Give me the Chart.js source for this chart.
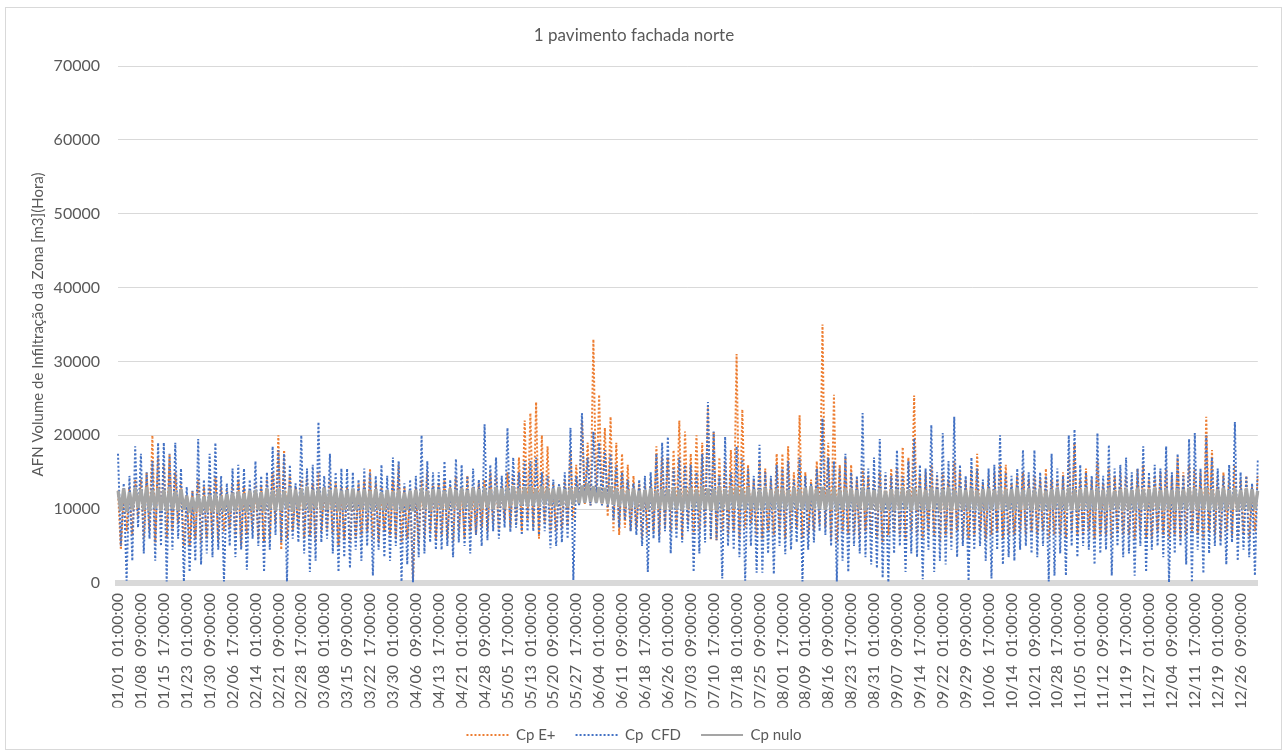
<!DOCTYPE html>
<html><head><meta charset="utf-8">
<script src="https://cdn.jsdelivr.net/npm/chart.js@4.4.1/dist/chart.umd.min.js"></script>
<style>html,body{margin:0;padding:0;background:#fff;}canvas{display:block;}</style>
</head><body>
<canvas id="c" width="1287" height="755"></canvas>
<script>
const tickLabels = ["01/01  01:00:00","01/08  09:00:00","01/15  17:00:00","01/23  01:00:00","01/30  09:00:00","02/06  17:00:00","02/14  01:00:00","02/21  09:00:00","02/28  17:00:00","03/08  01:00:00","03/15  09:00:00","03/22  17:00:00","03/30  01:00:00","04/06  09:00:00","04/13  17:00:00","04/21  01:00:00","04/28  09:00:00","05/05  17:00:00","05/13  01:00:00","05/20  09:00:00","05/27  17:00:00","06/04  01:00:00","06/11  09:00:00","06/18  17:00:00","06/26  01:00:00","07/03  09:00:00","07/10  17:00:00","07/18  01:00:00","07/25  09:00:00","08/01  17:00:00","08/09  01:00:00","08/16  09:00:00","08/23  17:00:00","08/31  01:00:00","09/07  09:00:00","09/14  17:00:00","09/22  01:00:00","09/29  09:00:00","10/06  17:00:00","10/14  01:00:00","10/21  09:00:00","10/28  17:00:00","11/05  01:00:00","11/12  09:00:00","11/19  17:00:00","11/27  01:00:00","12/04  09:00:00","12/11  17:00:00","12/19  01:00:00","12/26  09:00:00"];

const cpEplus = [
12500,4500,12000,7000,13000,6500,14000,9000,
14000,6000,15000,7000,20000,5500,17000,8000,
16000,6000,17500,7000,15000,8000,13500,5000,
12000,5000,12500,6000,14000,5500,13000,6000,
13000,6000,14500,5500,13000,7000,12500,7500,
13500,6500,14000,5000,13000,6500,12500,7000,
13500,6000,13000,5500,14000,6000,15000,8000,
20000,4500,18000,6000,14500,7000,13000,7500,
14000,6000,14500,6500,13500,5500,15000,7000,
13000,7000,14000,6500,13500,5000,13000,6000,
13000,5500,12500,6000,13500,6500,14000,7000,
15500,6000,13500,5500,13000,7000,12500,6500,
14000,6000,16000,5500,13000,6000,12500,300,
13000,5000,14000,6000,15000,7000,13500,6000,
13500,6500,14000,6000,13000,5500,14500,7000,
13000,6000,14500,7000,13000,6500,13500,7500,
14000,7000,15000,8000,14500,7000,13500,8500,
15000,7500,14500,8000,17000,7000,22000,8500,
23000,7500,24500,6000,20000,8000,18500,7000,
13500,7000,13000,7500,14000,8000,18000,8500,
16000,10600,22000,10700,19000,10500,33000,10800,
25500,10600,21000,9000,22500,7000,19000,6500,
17500,7500,16000,7000,14500,7500,13500,6000,
13500,6500,14000,7000,18500,6500,17000,7500,
17000,7000,18000,7500,22000,6000,20500,8000,
17500,6500,20000,7000,19000,7500,24000,5800,
20500,5800,17000,7000,16500,6500,18000,7000,
31000,6000,23500,7500,16000,8000,14000,6500,
16500,6000,15500,7000,14000,6500,17500,7000,
17500,6000,18500,7000,15000,7500,22700,6000,
15000,6500,14000,7000,16500,8000,35000,7500,
19000,6000,25500,5500,16000,7000,17000,6500,
16000,6500,14000,6000,15500,7000,14500,6500,
14000,6000,15000,5500,14500,6500,15500,7000,
15500,6500,18400,6000,17000,7000,25400,6500,
14500,6000,15000,7000,16000,6500,14500,5500,
15000,6500,14000,6000,16500,7000,15000,6000,
14000,6000,15500,6500,17500,7000,13500,6000,
14500,6500,15000,7000,16000,6000,16000,6500,
13500,6500,14500,7000,15000,6500,14000,7000,
14500,6500,14000,7000,15500,6000,14000,6500,
14000,6500,15000,6000,17000,7000,19000,6500,
14000,6500,15500,7000,14000,6000,16500,6500,
13500,6500,15500,6000,14500,7000,15000,6500,
14500,6500,14000,6000,15500,7000,16000,6000,
14000,6000,14500,7000,15000,6500,15500,6000,
14500,6500,17000,6000,15000,6500,16000,7000,
15500,6500,15000,6000,22500,7000,18000,6500,
14500,6000,15000,7000,14000,6500,16000,6000,
14000,6500,14500,6000,13000,7000,14500
];

const cpCFD = [
17500,5000,13500,300,14500,3000,18500,7500,
17500,4000,15000,6000,16500,3000,19000,5000,
19000,200,17500,4500,19000,6000,15500,200,
13000,1500,12500,3000,19500,2500,14000,4000,
17500,3500,19000,4500,14500,200,13500,5000,
15500,3500,16000,4500,15500,1800,14000,6000,
16500,5000,14500,1500,15000,4500,18500,6500,
18000,5500,17500,200,16000,6000,13500,5500,
20000,4000,15500,1500,16000,3000,21800,5500,
14500,6000,17500,4000,15000,1500,15500,3500,
15500,2000,15000,4500,14000,3000,15500,5000,
15000,1000,14500,4500,16000,3500,14500,3000,
17000,5000,16500,200,13500,2500,14000,100,
14500,3500,20000,4000,16500,5500,15000,4500,
15000,4500,16500,5000,14000,3500,16800,5500,
16000,5000,14500,4000,15500,6500,14000,5000,
21500,5800,16000,7000,17000,6000,14500,7500,
21000,6900,17000,7500,15000,6500,16500,7000,
16500,7000,17000,6500,15000,7000,14500,4700,
14000,5000,13500,5500,15000,6000,21000,400,
14500,10500,23000,10800,17000,10500,20500,10800,
19000,10500,18000,10300,17500,8500,16000,7500,
15000,8500,14000,7000,13500,6500,14000,5000,
14500,1500,15000,6000,17500,5500,19000,7000,
19800,4000,15500,6000,17000,5500,16000,7000,
16000,1500,15000,4000,17500,5500,24500,6000,
20500,5800,14500,600,19800,5000,15000,4500,
18500,3500,17000,300,15500,5000,14500,1400,
18700,1400,15000,4000,14500,1200,16000,5000,
15500,3900,16500,4500,14000,5500,17000,200,
14500,4500,13500,5500,15500,7000,22300,6500,
17000,5000,16500,200,15500,3000,17500,1500,
15000,5000,14500,4000,23000,3500,15500,2500,
17000,2000,19500,700,15000,100,14500,4000,
18000,5000,14500,1500,16500,4000,19600,3500,
16000,500,15500,4500,21400,1500,15000,3000,
20300,2500,16500,4500,22500,3500,16000,5000,
14500,300,17000,4500,15500,5000,14000,3000,
15500,600,16000,4500,20000,2500,15000,3500,
14500,3000,15500,4500,18000,5000,15000,4000,
18000,3500,15000,5000,14500,200,17500,1000,
15500,4000,14500,1000,20000,5000,20800,3500,
16000,5000,15000,4500,14500,2500,20300,4000,
14500,4500,18700,1000,15500,5000,16000,3500,
17000,4000,15000,1000,15500,5000,18500,1500,
15000,4500,16000,5000,15500,3500,18500,100,
15000,4000,17500,5000,14500,2500,19500,100,
20300,4500,15500,1300,20000,4000,17000,5000,
15500,5000,14500,2500,16000,5500,21800,3000,
15000,4500,14500,3500,13500,1000,16600
];

const cpNulo = [
12500,9800,12800,9600,12300,10000,12900,10200,
12700,9900,13000,9700,12600,10100,12800,9800,
12600,9700,12900,10000,12400,9800,12700,9900,
11800,9500,11600,9700,11900,9400,11700,9600,
11900,9600,12100,9500,11800,9700,12000,9600,
12200,9700,12400,9900,12100,9600,12500,9800,
12600,9900,12300,9700,12800,10000,12500,9800,
12800,9800,12500,10100,12900,9700,12600,10000,
12700,10000,13000,9800,12600,10100,12800,9900,
12900,9900,12600,10000,12800,9700,12500,9900,
12600,9800,12800,9900,12400,10000,12700,9800,
12500,9700,12700,9900,12300,9800,12600,10000,
12400,9800,12600,9700,12200,9900,12500,9700,
12600,9900,12800,10000,12500,9800,12700,10100,
12700,10000,12500,9900,12800,10100,12600,10000,
12800,10100,12600,9900,12900,10200,12700,10000,
12900,10200,12700,10000,13000,10300,12800,10100,
12900,10400,13100,10300,12800,10500,13000,10400,
13000,10500,12800,10400,13100,10600,12900,10500,
12800,10400,13000,10500,12700,10300,12900,10600,
13000,10800,13200,10900,13500,11000,13100,10900,
13000,10800,12900,10700,13100,10600,12800,10400,
12700,10300,12600,10100,12800,10200,12500,10000,
12600,10000,12800,9900,12500,10100,12700,9900,
12700,9900,12900,10000,12600,9800,12800,10100,
12900,10100,12700,9900,13000,10000,12800,9800,
12800,9800,13000,10000,12700,9900,12900,10100,
13000,10100,12800,9900,12900,10000,12700,9800,
12700,9800,12900,10000,12600,9900,12800,10000,
12800,10000,12600,9800,12900,10100,12700,9900,
12900,9900,13100,10100,12800,10000,13000,9900,
12700,10000,12900,9800,12600,9900,12800,10100,
12800,9900,12600,10000,12900,9800,12700,9900,
12600,9800,12800,9700,12500,9900,12700,9800,
12700,9900,12900,10000,12600,9800,12800,9900,
12800,9800,12600,9900,12900,10000,12700,9800,
12700,9900,12900,9800,12600,10000,12800,9900,
12600,9800,12800,9900,12500,9700,12700,9800,
12800,9900,12600,10000,12900,9800,12700,9900,
12700,9800,12900,9900,12600,10000,12800,9800,
12600,9900,12800,9800,12500,9900,12700,10000,
12800,10000,12600,9800,12900,9900,12700,9800,
12700,9900,12900,10000,12600,9800,12800,9900,
12600,9800,12800,9900,12500,10000,12700,9800,
12800,9900,12600,9800,12900,10000,12700,9900,
12700,10000,12900,9900,12600,9800,12800,10000,
12600,9800,12800,9900,12700,10000,12900,9800,
12800,9900,12700,10000,12900,9800,12600,9900,
12700,9800,12900,9900,12600,10000,12800,9800,
12600,9900,12800,9800,12700,10000,12500
];

const categories = cpCFD.map((v, i) => (i % 8 === 0 ? tickLabels[i / 8] : ''));

const framePlugin = {
  id: 'frame',
  beforeDraw(chart) {
    const ctx = chart.ctx;
    ctx.save();
    ctx.fillStyle = '#ffffff';
    ctx.fillRect(0, 0, chart.width, chart.height);
    ctx.strokeStyle = '#d9d9d9';
    ctx.lineWidth = 1;
    ctx.strokeRect(5.5, 7.5, 1276, 742);
    ctx.restore();
  }
};

function draw() {
  Chart.defaults.font.family = 'Lato, "Open Sans", sans-serif';
  const baseLabels = Chart.defaults.plugins.legend.labels.generateLabels;
  new Chart(document.getElementById('c'), {
    type: 'line',
    data: {
      labels: categories,
      datasets: [
        { label: 'Cp E+', data: cpEplus, borderColor: '#ED7D31', backgroundColor: '#ED7D31', borderWidth: 2, borderDash: [2, 2], borderJoinStyle: 'bevel', pointRadius: 0, tension: 0, order: 3 },
        { label: 'Cp  CFD', data: cpCFD, borderColor: '#4472C4', backgroundColor: '#4472C4', borderWidth: 2, borderDash: [2, 2], borderJoinStyle: 'bevel', pointRadius: 0, tension: 0, order: 2 },
        { label: 'Cp nulo', data: cpNulo, borderColor: '#A5A5A5', backgroundColor: '#A5A5A5', borderWidth: 3.4, borderJoinStyle: 'bevel', pointRadius: 0, tension: 0, order: 1 }
      ]
    },
    options: {
      responsive: false,
      animation: false,
      devicePixelRatio: 1,
      layout: { padding: { left: 0, right: 19, top: 0, bottom: 2.5 } },
      plugins: {
        title: { display: true, text: '1 pavimento fachada norte', color: '#595959', font: { size: 17, weight: 'normal' }, padding: { top: 25, bottom: 20.6 } },
        legend: {
          position: 'bottom',
          labels: {
            usePointStyle: true, pointStyle: 'line', pointStyleWidth: 42,
            color: '#595959', font: { size: 15 }, padding: 20,
            sort: (a, b) => a.datasetIndex - b.datasetIndex,
            generateLabels: chart => baseLabels(chart).map(l => {
              const ds = chart.data.datasets[l.datasetIndex];
              return Object.assign({}, l, { lineDash: ds.borderDash || [], lineWidth: 2, strokeStyle: ds.borderColor, fillStyle: ds.borderColor });
            })
          }
        },
        tooltip: { enabled: false }
      },
      scales: {
        x: {
          grid: { display: false, drawTicks: false },
          border: { display: true, color: '#d9d9d9', width: 6 },
          ticks: { autoSkip: false, maxRotation: 90, minRotation: 90, padding: 10, color: '#595959', font: { size: 16 } },
          afterFit: s => { s.height = 124.5; }
        },
        y: {
          min: 0, max: 70000,
          ticks: { stepSize: 10000, padding: 18, color: '#595959', font: { size: 16 }, callback: v => String(v) },
          grid: { color: '#d9d9d9', drawTicks: false },
          border: { display: false },
          title: { display: true, text: 'AFN Volume de Infiltração da Zona [m3](Hora)', color: '#595959', font: { size: 15 }, padding: { top: 29, bottom: 0 } },
          afterFit: s => { s.width = 118; }
        }
      }
    },
    plugins: [framePlugin]
  });
}
if (document.fonts && document.fonts.load) {
  document.fonts.load('16px Lato').then(draw, draw);
} else { draw(); }
</script>
</body></html>
